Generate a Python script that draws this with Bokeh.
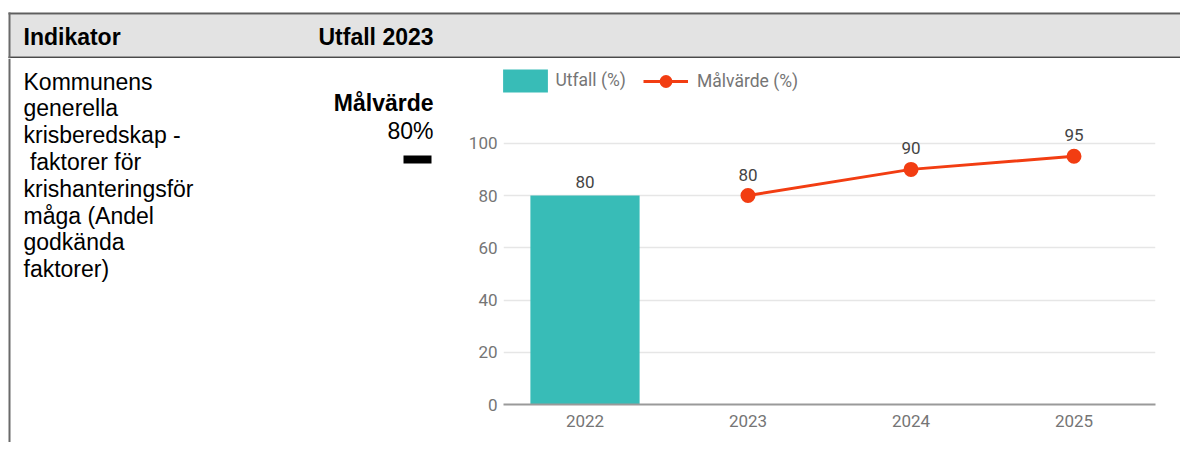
from bokeh.plotting import figure
from bokeh.layouts import column, row
from bokeh.models import (Legend, LegendItem, FixedTicker, Range1d, FactorRange)
from bokeh.core.properties import value
from bokeh.embed import file_html
from bokeh.resources import INLINE

# ---------------- data ----------------
header_labels = ["Indikator", "Utfall 2023"]
indicator_lines = ["Kommunens", "generella", "krisberedskap -", " faktorer för",
                   "krishanteringsför", "måga (Andel", "godkända", "faktorer)"]
target_title = "Målvärde"
target_text = "80%"
years = ["2022", "2023", "2024", "2025"]
utfall_years = ["2022"]
utfall_values = [80]
malvarde_years = ["2023", "2024", "2025"]
malvarde_values = [80, 90, 95]
y_ticks = [0, 20, 40, 60, 80, 100]
series_names = ["Utfall (%)", "Målvärde (%)"]

# ---------------- layout constants (page pixels) ----------------
PAGE_W, PAGE_H = 1180, 442
HEAD_H = 58
LEFT_W = 440
FL, FR, FT, FB = 503, 1155, 60, 404
PX_PER_UNIT = 2.6125
TEAL = "#38bcb7"
RED = "#f23d12"
GRAY_TXT = "#757575"
FONT = value("Liberation Sans")
CHART_FS = "17px"


def blank_fig(x0, x1, y0, y1):
    f = figure(width=x1 - x0, height=y1 - y0, x_range=Range1d(x0, x1),
               y_range=Range1d(y1, y0), x_axis_location=None, y_axis_location=None,
               output_backend="svg", toolbar_location=None, min_border=0, title=None,
               frame_align=False)
    f.outline_line_color = None
    f.grid.visible = False
    return f


def txt(f, s, x, y, style="normal", align="left"):
    if s.startswith(" "):
        x += 6.4  # width of the leading space (collapsed in SVG)
    f.text(x=[x], y=[y], text=[s], text_font=FONT, text_font_size="23px",
           text_font_style=style, text_align=align, text_baseline="middle",
           text_color="black")


# ---------------- header ----------------
head = blank_fig(0, PAGE_W, 0, HEAD_H)
head.quad(left=[9], right=[1190], top=[14], bottom=[56], fill_color="#e3e3e3", line_color=None)
head.quad(left=[8], right=[1190], top=[12], bottom=[14], fill_color="#5e5e5e", line_color=None)
head.quad(left=[8], right=[1190], top=[56], bottom=[58], fill_color="#4a4a4a", line_color=None)
head.quad(left=[8], right=[10], top=[12], bottom=[58], fill_color="#6a6a6a", line_color=None)
txt(head, header_labels[0], 23, 36.5, style="bold")
txt(head, header_labels[1], 318, 36.5, style="bold")

# ---------------- left column ----------------
left = blank_fig(0, LEFT_W, HEAD_H, PAGE_H)
left.quad(left=[8], right=[10], top=[HEAD_H], bottom=[PAGE_H], fill_color="#6a6a6a", line_color=None)
for i, line_text in enumerate(indicator_lines):
    txt(left, line_text, 23, 81 + 26.8 * i)
txt(left, target_title, 433, 102, style="bold", align="right")
txt(left, target_text, 433, 130, align="right")
left.quad(left=[403], right=[431], top=[155], bottom=[163], fill_color="black", line_color=None)

# ---------------- chart ----------------
p = figure(width=PAGE_W - LEFT_W, height=PAGE_H - HEAD_H, title=None,
           x_range=FactorRange(*years, range_padding=0),
           y_range=Range1d(0, (FB - FT) / PX_PER_UNIT),
           output_backend="svg", toolbar_location=None, frame_align=False,
           min_border_left=FL - LEFT_W, min_border_right=PAGE_W - FR,
           min_border_top=FT - HEAD_H, min_border_bottom=PAGE_H - FB)
p.outline_line_color = None

bars = p.vbar(x=utfall_years, top=utfall_values, width=0.67, color=TEAL, line_color=None)
line = p.line(x=malvarde_years, y=malvarde_values, line_color=RED, line_width=3)
dots = p.scatter(x=malvarde_years, y=malvarde_values, size=15, color=RED, line_color=None)

p.text(x=utfall_years, y=utfall_values, text=[str(v) for v in utfall_values],
       y_offset=-14, text_align="center", text_baseline="middle",
       text_font=value("Roboto"), text_font_size=CHART_FS, text_color="#444444")
p.text(x=malvarde_years, y=malvarde_values, text=[str(v) for v in malvarde_values],
       y_offset=-21, text_align="center", text_baseline="middle",
       text_font=value("Roboto"), text_font_size=CHART_FS, text_color="#444444")

legend_kw = dict(orientation="horizontal", padding=0, margin=0, border_line_color=None,
                 background_fill_alpha=0, label_text_font="Roboto",
                 label_text_font_size="17.5px", label_text_color=GRAY_TXT)
legend_bar = Legend(items=[LegendItem(label=series_names[0], renderers=[bars])],
                    location=(-5.6, FB - 94.9), glyph_width=56, glyph_height=29,
                    label_standoff=2, **legend_kw)
legend_line = Legend(items=[LegendItem(label=series_names[1], renderers=[line, dots])],
                     location=(140, FB - 96.5), glyph_width=45, glyph_height=32,
                     label_standoff=9, **legend_kw)
p.add_layout(legend_bar)
p.add_layout(legend_line)

p.yaxis.ticker = FixedTicker(ticks=y_ticks)
p.yaxis.axis_line_color = None
p.yaxis.major_tick_line_color = None
p.yaxis.minor_tick_line_color = None
p.yaxis.major_tick_out = 0
p.yaxis.major_label_standoff = 6
p.yaxis.major_label_text_font = "Roboto"
p.yaxis.major_label_text_font_size = CHART_FS
p.yaxis.major_label_text_color = GRAY_TXT

p.xaxis.axis_line_color = "#9a9a9a"
p.xaxis.axis_line_width = 2
p.xaxis.major_tick_line_color = None
p.xaxis.minor_tick_line_color = None
p.xaxis.major_tick_out = 0
p.xaxis.major_label_standoff = 10
p.xaxis.major_label_text_font = "Roboto"
p.xaxis.major_label_text_font_size = CHART_FS
p.xaxis.major_label_text_color = GRAY_TXT

p.xgrid.grid_line_color = None
p.ygrid.grid_line_color = "#e6e6e6"
p.ygrid.grid_line_width = 1.5

layout = column(head, row(left, p, spacing=0), spacing=0)
open("out.html", "w").write(file_html(layout, INLINE))
